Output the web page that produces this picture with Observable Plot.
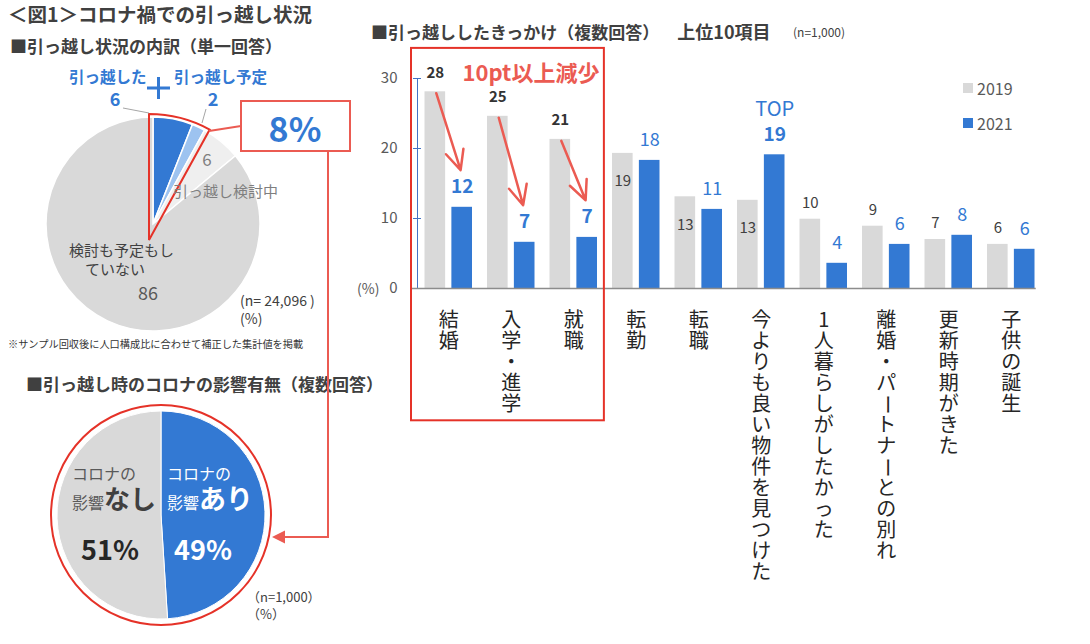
<!DOCTYPE html>
<html><head><meta charset="utf-8">
<script src="https://cdn.jsdelivr.net/npm/d3@7"></script>
<script src="https://cdn.jsdelivr.net/npm/@observablehq/plot@0.6"></script>
<style>
body{margin:0;background:#fff;font-family:"Noto Sans CJK JP","Noto Sans",sans-serif;}
#wrap{position:relative;width:1090px;height:644px;overflow:hidden;background:#fff;}
#chart{position:absolute;left:340px;top:40px;}
#overlay{position:absolute;left:0;top:0;}
</style></head><body>
<div id="wrap"><div id="chart"></div><svg id="overlay" width="1090" height="644"></svg></div>
<script>
// ---- data ----
const categories = ["結婚","入学・進学","就職","転勤","転職","今よりも良い物件を見つけた","1人暮らしがしたかった","離婚・パートナーとの別れ","更新時期がきた","子供の誕生"];
const v2019 = [28.1,24.6,21.3,19.3,13.1,12.6,9.9,8.9,7.0,6.3];
const v2021 = [11.6,6.6,7.3,18.3,11.3,19.1,3.6,6.3,7.6,5.6];
const years = ["2019","2021"];
const pie1Labels = ["引っ越した","引っ越し予定","引っ越し検討中","検討も予定もしていない"];
const pie1Values = [6,2,6,86];
const pie2Labels = ["コロナの影響あり","コロナの影響なし"];
const pie2Values = [49,51];

const GRAY="#D9D9D9", BLUE="#3379D3", LBLUE="#9DC3F0", RED="#E53228", SALMON="#EB5B52";
const FONT='"Noto Sans CJK JP","Noto Sans",sans-serif';

const rows = categories.map((c,i)=>({i, c, a: v2019[i], b: v2021[i]}));
const lab = (data, key, off, opts) => Plot.text(data, {x: d=>d.i+off, y: key, text: d=>String(Math.round(d[key])), fontFamily: FONT, ...opts});

// vertical (tategaki) category labels: one text mark per character position
const chars = rows.flatMap(d => Array.from(d.c).map((ch, k) => ({i: d.i, k, ch})));
const maxLen = d3.max(chars, d => d.k) + 1;
const catMarks = d3.range(maxLen).map(k => Plot.text(chars.filter(d => d.k === k), {
  x: d => d.i + 0.5, y: 0, text: "ch", dy: 32 + k * 21,
  rotate: d => (d.ch === "ー" ? 90 : 0),
  fontSize: 20, fill: "#262626", fontFamily: FONT
}));

const plot = Plot.plot({
  width: 740, height: 580,
  marginLeft: 77, marginRight: 38, marginTop: 38, marginBottom: 332,
  x: {domain: [0, 10], axis: null},
  y: {domain: [0, 30], ticks: 3, tickSize: 0, tickPadding: 20, label: null},
  style: {fontFamily: FONT, fontSize: "15px", color: "#595959", background: "transparent", overflow: "visible"},
  marks: [
    Plot.rect(rows, {x1: d=>d.i+0.12, x2: d=>d.i+0.45, y1: 0, y2: "a", fill: GRAY}),
    Plot.rect(rows, {x1: d=>d.i+0.55, x2: d=>d.i+0.88, y1: 0, y2: "b", fill: BLUE}),
    Plot.ruleX([0], {y1: 0, y2: 30, stroke: "#4472C4", strokeWidth: 1}),
    Plot.ruleY([10,20,30], {x1: -0.064, x2: 0.064, stroke: "#4472C4"}),
    Plot.ruleY([0], {x1: -0.08, x2: 9.9, stroke: "#8c8c8c", strokeWidth: 1.3}),
    lab(rows.slice(0,3), "a", 0.285, {dy: -19, fontWeight: 700, fontSize: 15, fill: "#333"}),
    lab(rows.slice(3,6), "a", 0.285, {dy: 28, fontSize: 15, fill: "#404040"}),
    lab(rows.slice(6), "a", 0.285, {dy: -16, fontSize: 15, fill: "#404040"}),
    lab(rows.slice(0,3), "b", 0.715, {dy: -20, fontWeight: 700, fontSize: 19, fill: BLUE}),
    lab(rows.filter(d=>d.i===5), "b", 0.715, {dy: -20, fontWeight: 700, fontSize: 19, fill: BLUE}),
    lab(rows.filter(d=>d.i>=3 && d.i!==5), "b", 0.715, {dy: -20, fontSize: 18, fill: BLUE}),
    Plot.text(rows.filter(d=>d.i===5), {x: d=>d.i+0.715, y: "b", text: ()=>"TOP", dy: -45, fontSize: 20, fill: BLUE, fontFamily: FONT}),
    Plot.arrow(rows.slice(0,3), {x1: d=>d.i+0.3, y1: d=>d.a-0.2, x2: d=>d.i+0.69, y2: d=>d.b+5.3, stroke: SALMON, strokeWidth: 2.5, headLength: 13, headAngle: 50}),
    Plot.rect([0], {x1: -0.096, x2: 2.99, y1: -18.9, y2: 34.3, fill: "none", stroke: RED, strokeWidth: 2}),
    ...catMarks
  ]
});
document.getElementById("chart").appendChild(plot);

// ---- overlay ----
const svg = d3.select("#overlay").style("font-family", FONT);
function txt(x, y, s, o = {}) {
  const t = svg.append("text").attr("x", x).attr("y", y).text(s)
    .attr("font-size", o.size || 15).attr("fill", o.fill || "#404040")
    .attr("font-weight", o.weight || 400).attr("text-anchor", o.anchor || "start");
  if (!o.alpha) t.attr("dominant-baseline", "central");
  return t;
}
// titles
txt(8, 13, "＜図1＞コロナ禍での引っ越し状況", {size: 19.5, weight: 700});
txt(10, 45, "■引っ越し状況の内訳（単一回答）", {size: 17, weight: 700});
const bt = txt(371, 31, "■引っ越ししたきっかけ（複数回答）", {size: 17, weight: 700});
bt.append("tspan").attr("dx", 18).text("上位10項目").attr("font-size", 18);
txt(793, 31, "(n=1,000)", {size: 12});
txt(26, 383, "■引っ越し時のコロナの影響有無（複数回答）", {size: 17, weight: 700});

// bar chart extras
txt(357, 288, "(%)", {size: 14, fill: "#595959"});
txt(531, 71, "10pt以上減少", {size: 22, weight: 700, fill: SALMON, anchor: "middle"});
svg.append("rect").attr("x", 963).attr("y", 83).attr("width", 10).attr("height", 10).attr("fill", GRAY);
txt(977, 88, years[0], {size: 16, fill: "#595959"});
svg.append("rect").attr("x", 963).attr("y", 118).attr("width", 10).attr("height", 10).attr("fill", BLUE);
txt(977, 123, years[1], {size: 16, fill: "#595959"});

// pie 1
const pie = d3.pie().sort(null).value(d => d);
const g1 = svg.append("g").attr("transform", "translate(153,224)");
const arc1 = d3.arc().innerRadius(0).outerRadius(107);
g1.selectAll("path").data(pie(pie1Values)).join("path").attr("d", arc1)
  .attr("fill", (d, i) => [BLUE, LBLUE, "#EFEFEF", GRAY][i]).attr("stroke", "#fff").attr("stroke-width", 1.5);
const ang = 2 * Math.PI * (pie1Values[0] + pie1Values[1]) / 100;
svg.append("path").attr("transform", "translate(149,240)")
  .attr("d", d3.arc().innerRadius(0).outerRadius(126)({startAngle: 0, endAngle: ang}))
  .attr("fill", "none").attr("stroke", RED).attr("stroke-width", 2);
svg.append("path").attr("d", "M123,108L149,113M206,109L202,123").attr("stroke", "#A6A6A6").attr("fill", "none");
txt(69, 76, pie1Labels[0], {size: 15.5, weight: 700, fill: BLUE});
txt(115, 98, String(pie1Values[0]), {size: 18, weight: 700, fill: BLUE, anchor: "middle"});
svg.append("path").attr("d", "M147,88H170M158.5,77V99").attr("stroke", BLUE).attr("stroke-width", 3);
txt(174, 76, pie1Labels[1], {size: 15.5, weight: 700, fill: BLUE});
txt(213, 98, String(pie1Values[1]), {size: 18, weight: 700, fill: BLUE, anchor: "middle"});
txt(207, 158, String(pie1Values[2]), {size: 17, fill: "#7F7F7F", anchor: "middle"});
txt(173, 190, pie1Labels[2], {size: 15, fill: "#7F7F7F"});
txt(69, 249, "検討も予定もし", {size: 15, fill: "#404040"});
txt(85, 268, "ていない", {size: 15, fill: "#404040"});
txt(148, 292, String(pie1Values[3]), {size: 18, fill: "#595959", anchor: "middle"});
txt(240, 300, "(n= 24,096 )", {size: 14});
txt(240, 318, "(%)", {size: 14});
txt(8, 343, "※サンプル回収後に人口構成比に合わせて補正した集計値を掲載", {size: 10.2, fill: "#333"});

// 8% box + connector
svg.append("path").attr("d", "M209,131L241,126").attr("stroke", SALMON).attr("stroke-width", 2).attr("fill", "none");
svg.append("rect").attr("x", 241).attr("y", 101).attr("width", 109).attr("height", 50)
  .attr("fill", "#fff").attr("stroke", SALMON).attr("stroke-width", 2);
txt(295, 127, (pie1Values[0] + pie1Values[1]) + "%", {size: 34, weight: 700, fill: BLUE, anchor: "middle"});
svg.append("path").attr("d", "M328,151V537H283").attr("stroke", SALMON).attr("stroke-width", 2).attr("fill", "none");
svg.append("path").attr("d", "M272,537L285,530.5V543.5Z").attr("fill", SALMON);

// pie 2
const g2 = svg.append("g").attr("transform", "translate(161,515)");
const arc2 = d3.arc().innerRadius(0).outerRadius(104);
g2.selectAll("path").data(pie(pie2Values)).join("path").attr("d", arc2)
  .attr("fill", (d, i) => [BLUE, GRAY][i]).attr("stroke", "#fff").attr("stroke-width", 1);
g2.append("circle").attr("r", 110).attr("fill", "none").attr("stroke", RED).attr("stroke-width", 2);
txt(72, 473, "コロナの", {size: 16, fill: "#595959"});
const n1 = txt(72, 509, "影響", {size: 16, fill: "#595959", alpha: true});
n1.append("tspan").text("なし").attr("font-size", 26).attr("font-weight", 700).attr("fill", "#404040");
txt(110, 548, pie2Values[1] + "%", {size: 27, weight: 700, fill: "#262626", anchor: "middle"});
txt(167, 473, "コロナの", {size: 16, fill: "#fff"});
const n2 = txt(167, 509, "影響", {size: 16, fill: "#fff", alpha: true});
n2.append("tspan").text("あり").attr("font-size", 27).attr("font-weight", 700);
txt(203, 548, pie2Values[0] + "%", {size: 27, weight: 700, fill: "#fff", anchor: "middle"});
txt(247, 596, "（n=1,000）", {size: 13});
txt(247, 613, "（%）", {size: 13});
</script>
</body></html>
